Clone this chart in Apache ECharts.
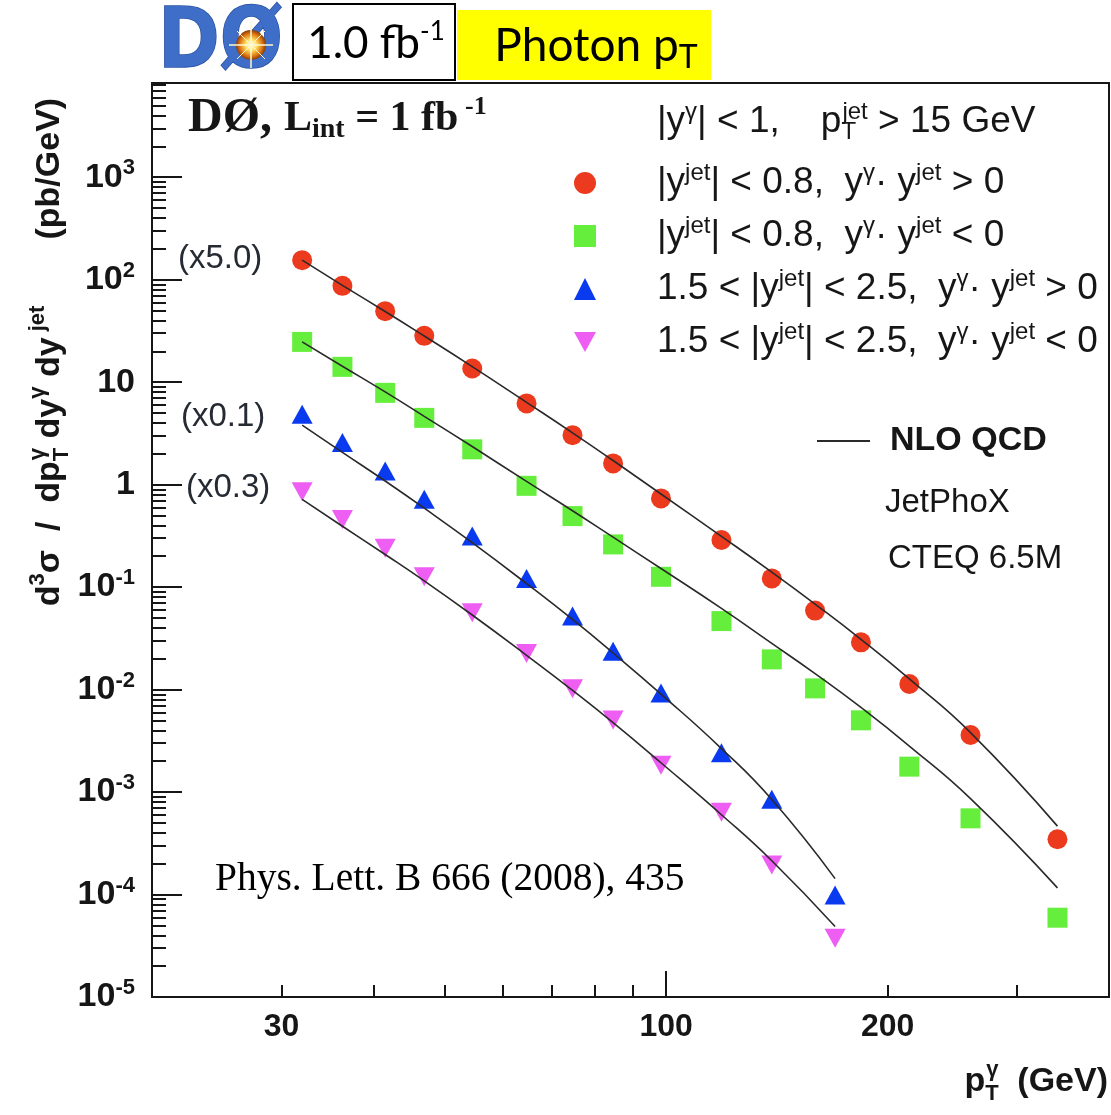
<!DOCTYPE html>
<html>
<head>
<meta charset="utf-8">
<title>DØ photon + jet cross sections</title>
<script src="https://cdn.jsdelivr.net/npm/echarts@6/dist/echarts.min.js"></script>
<style>
html,body{margin:0;padding:0;background:#ffffff;}
#chart{width:1111px;height:1115px;}
</style>
</head>
<body>
<div id="chart"></div>
<script>
// ---------------- data ----------------
const ptCentral = [32.0, 36.3, 41.5, 46.9, 54.5, 64.6, 74.6, 84.7, 98.4, 118.9, 139.2, 159.4, 184.0, 214.1, 259.3, 340.4];
const ptForward = [32.0, 36.3, 41.5, 46.9, 54.5, 64.6, 74.6, 84.7, 98.4, 118.9, 139.2, 169.7];

// data points (already multiplied by the scale factors shown in the figure)
const dataCentralSame = [155, 87.0, 49.3, 28.3, 13.6, 6.20, 3.04, 1.61, 0.733, 0.288, 0.1216, 0.0590, 0.0289, 0.01132, 0.00360, 0.000346];
const dataCentralOpp  = [24.7, 14.1, 7.86, 4.48, 2.21, 0.973, 0.493, 0.261, 0.126, 0.0466, 0.0197, 0.01027, 0.00501, 0.00177, 0.000554, 0.0000594];
const dataForwardSame = [4.87, 2.58, 1.36, 0.718, 0.315, 0.1216, 0.0521, 0.0236, 0.00924, 0.00242, 0.000849, 0.0000989];
const dataForwardOpp  = [0.851, 0.457, 0.239, 0.126, 0.0561, 0.0225, 0.01016, 0.00504, 0.00183, 0.000634, 0.000194, 0.0000374];

// NLO QCD (JetPhoX) curves
const nloCentralSame = [155.0, 88.0, 48.9, 28.2, 14.17, 6.354, 3.202, 1.718, 0.8096, 0.3131, 0.1400, 0.0683, 0.03095, 0.01272, 0.003806, 0.000465];
const nloCentralOpp  = [24.73, 14.30, 8.025, 4.638, 2.353, 1.074, 0.5563, 0.3068, 0.1519, 0.06197, 0.02822, 0.01429, 0.00669, 0.002811, 0.000864, 0.0001162];
const nloForwardSame = [3.806, 2.066, 1.084, 0.5886, 0.2712, 0.1082, 0.04829, 0.02275, 0.00904, 0.002657, 0.000845, 0.0001429];
const nloForwardOpp  = [0.7172, 0.3927, 0.2080, 0.1149, 0.05342, 0.02161, 0.009844, 0.004764, 0.001931, 0.0006004, 0.0002137, 0.00004873];

// axes
const xRange = [20, 400];
const yRange = [1e-5, 8300];
const xLabelTicks = [30, 100, 200];
const xMajorTicks = [100];
const xMinorTicks = [30, 40, 50, 60, 70, 80, 90, 200, 300];
const yMajorTicks = [1e-5, 1e-4, 1e-3, 1e-2, 1e-1, 1, 10, 100, 1000];
const yMinorTicks = [];
for (let e = -5; e <= 3; e++) {
  for (let m = 2; m <= 9; m++) {
    const v = Number((m * Math.pow(10, e)).toPrecision(3));
    if (v < yRange[1]) yMinorTicks.push(v);
  }
}

const seriesNames = ['central same sign', 'central opposite sign', 'forward same sign', 'forward opposite sign'];
const theoryName = 'NLO QCD';
const scaleLabels = ['(x5.0)', '(x0.1)', '(x0.3)'];

// ---------------- styling ----------------
const SANS = '"Liberation Sans", Arial, Helvetica, sans-serif';
const SERIF = '"Liberation Serif", "Times New Roman", serif';
const INK = '#161616';
const COLORS = ['#ec3a1e', '#66ee3c', '#0a3af0', '#ee5ef2'];

function pairs(xs, ys) { return xs.map((x, i) => [x, ys[i]]); }

const legendRich = {
  g: { width: 56 },
  t: { fontFamily: SANS, fontSize: 37, color: INK, lineHeight: 44 },
  s: { fontFamily: SANS, fontSize: 24, color: INK, lineHeight: 14, verticalAlign: 'top' }
};
const legendText = {};
legendText[seriesNames[0]] = '{g| }{t||y}{s|jet}{t|| < 0.8,  y}{s|γ}{t|· y}{s|jet}{t| > 0}';
legendText[seriesNames[1]] = '{g| }{t||y}{s|jet}{t|| < 0.8,  y}{s|γ}{t|· y}{s|jet}{t| < 0}';
legendText[seriesNames[2]] = '{g| }{t|1.5 < |y}{s|jet}{t|| < 2.5,  y}{s|γ}{t|· y}{s|jet}{t| > 0}';
legendText[seriesNames[3]] = '{g| }{t|1.5 < |y}{s|jet}{t|| < 2.5,  y}{s|γ}{t|· y}{s|jet}{t| < 0}';

function yLabel(v) {
  const e = Math.round(Math.log10(v));
  if (e === 0) return '{b|1}';
  if (e === 1) return '{b|10}';
  return '{b|10}{e|' + e + '}';
}

const chart = echarts.init(document.getElementById('chart'), null, { renderer: 'canvas' });

const scatterDefs = [
  { data: pairs(ptCentral, dataCentralSame), symbol: 'circle', size: 20 },
  { data: pairs(ptCentral, dataCentralOpp), symbol: 'rect', size: 20 },
  { data: pairs(ptForward, dataForwardSame), symbol: 'triangle', size: [21, 19] },
  { data: pairs(ptForward, dataForwardOpp), symbol: 'path://M0,0L20,0L10,18Z', size: [21, 19] }
];
const theoryDefs = [
  pairs(ptCentral, nloCentralSame),
  pairs(ptCentral, nloCentralOpp),
  pairs(ptForward, nloForwardSame),
  pairs(ptForward, nloForwardOpp)
];

const series = [];
scatterDefs.forEach((d, i) => {
  series.push({
    type: 'scatter', name: seriesNames[i], xAxisIndex: 0, yAxisIndex: 0,
    data: d.data, symbol: d.symbol, symbolSize: d.size,
    itemStyle: { color: COLORS[i], opacity: 1 }, z: 3
  });
});
theoryDefs.forEach((d) => {
  series.push({
    type: 'line', name: theoryName, xAxisIndex: 0, yAxisIndex: 0,
    data: d, symbol: 'none', showSymbol: false, smooth: 0.5,
    lineStyle: { color: '#2a2a2a', width: 1.6 }, itemStyle: { color: '#2a2a2a' }, z: 4
  });
});

const gridBox = { left: 152, top: 83, width: 957, height: 914 };

// rich styles for stacked sub/superscript titles (all tokens left-flowing)
function titleRich(main, small, lh, off, bold) {
  const w = bold ? 'bold' : 'normal';
  return {
    m: { fontFamily: SANS, fontWeight: w, fontSize: main, fill: INK, lineHeight: lh, align: 'left' },
    p: { fontFamily: SANS, fontWeight: w, fontSize: small, fill: INK, lineHeight: off, verticalAlign: 'top', align: 'left' },
    u: { fontFamily: SANS, fontWeight: w, fontSize: small, fill: INK, lineHeight: off, verticalAlign: 'bottom', align: 'left', width: 1 }
  };
}

const option = {
  animation: false,
  backgroundColor: '#ffffff',
  grid: [
    Object.assign({ show: true, borderColor: INK, borderWidth: 2, backgroundColor: 'transparent' }, gridBox),
    Object.assign({ show: false }, gridBox)
  ],
  xAxis: [
    {
      type: 'log', logBase: 10, gridIndex: 0, min: xRange[0], max: xRange[1], position: 'bottom',
      axisLine: { show: true, lineStyle: { color: INK, width: 2 } },
      axisTick: { show: true, inside: true, length: 26, customValues: xMajorTicks, lineStyle: { color: INK, width: 2 } },
      axisLabel: {
        show: true, customValues: xLabelTicks, margin: 14, color: INK,
        fontFamily: SANS, fontWeight: 'bold', fontSize: 32,
        formatter: (v) => String(Math.round(v))
      },
      splitLine: { show: false }, minorTick: { show: false }
    },
    {
      type: 'log', logBase: 10, gridIndex: 1, min: xRange[0], max: xRange[1], position: 'bottom',
      axisLine: { show: false },
      axisTick: { show: true, inside: true, length: 12, customValues: xMinorTicks, lineStyle: { color: INK, width: 2 } },
      axisLabel: { show: false }, splitLine: { show: false }
    }
  ],
  yAxis: [
    {
      type: 'log', logBase: 10, gridIndex: 0, min: yRange[0], max: yRange[1], position: 'left',
      axisLine: { show: true, lineStyle: { color: INK, width: 2 } },
      axisTick: { show: true, inside: true, length: 30, customValues: yMajorTicks, lineStyle: { color: INK, width: 2 } },
      axisLabel: {
        show: true, customValues: yMajorTicks, margin: 17, formatter: yLabel,
        rich: {
          b: { fontFamily: SANS, fontWeight: 'bold', fontSize: 34, color: INK, lineHeight: 40 },
          e: { fontFamily: SANS, fontWeight: 'bold', fontSize: 22, color: INK, lineHeight: 10, verticalAlign: 'top' }
        }
      },
      splitLine: { show: false }, minorTick: { show: false }
    },
    {
      type: 'log', logBase: 10, gridIndex: 1, min: yRange[0], max: yRange[1], position: 'left',
      axisLine: { show: false },
      axisTick: { show: true, inside: true, length: 14, customValues: yMinorTicks, lineStyle: { color: INK, width: 2 } },
      axisLabel: { show: false }, splitLine: { show: false }
    }
  ],
  legend: [
    {
      data: seriesNames, orient: 'vertical', left: 574, top: 161, padding: 0,
      itemWidth: 22, itemHeight: 22, itemGap: 12.5, selectedMode: false,
      formatter: (name) => legendText[name],
      textStyle: { rich: legendRich }
    },
    {
      data: [theoryName], orient: 'vertical', left: 817, top: 424, padding: 0,
      icon: 'rect', itemWidth: 53, itemHeight: 2, selectedMode: false,
      formatter: (name) => '{g| }{b|' + name + '}',
      textStyle: { rich: {
        g: { width: 15 },
        b: { fontFamily: SANS, fontWeight: 'bold', fontSize: 34, color: INK, lineHeight: 40 }
      } }
    }
  ],
  graphic: [
    // DØ logo (approximation)
    { type: 'text', x: 158, y: 45, scaleX: 1.2, scaleY: 1.35, z: 10,
      style: { text: 'DØ', fontFamily: '"DejaVu Sans", sans-serif', fontWeight: 'bold', fontSize: 62,
               verticalAlign: 'middle', fill: '#3e6ec7', stroke: '#2a52a3', lineWidth: 1.2 } },
    { type: 'circle', z: 11, shape: { cx: 251, cy: 45, r: 15 },
      style: { fill: { type: 'radial', x: 0.5, y: 0.5, r: 0.5, colorStops: [
        { offset: 0, color: '#ffffff' }, { offset: 0.35, color: '#ffe46a' },
        { offset: 0.75, color: '#de7812' }, { offset: 1, color: '#8a3b06' } ] } } },
    { type: 'line', z: 12, shape: { x1: 229, y1: 45, x2: 273, y2: 45 }, style: { stroke: '#fff8d0', lineWidth: 1.5 } },
    { type: 'line', z: 12, shape: { x1: 251, y1: 22, x2: 251, y2: 68 }, style: { stroke: '#fff8d0', lineWidth: 1.5 } },
    { type: 'line', z: 12, shape: { x1: 237, y1: 31, x2: 265, y2: 59 }, style: { stroke: '#fff8d0', lineWidth: 1 } },
    { type: 'line', z: 12, shape: { x1: 237, y1: 59, x2: 265, y2: 31 }, style: { stroke: '#fff8d0', lineWidth: 1 } },

    // luminosity box
    { type: 'rect', z: 10, shape: { x: 293, y: 4, width: 162, height: 76 },
      style: { fill: '#ffffff', stroke: '#000000', lineWidth: 2 } },
    { type: 'text', z: 11, x: 376, y: 44,
      style: { text: '{a|1.0 fb}{s|-1}', align: 'center', verticalAlign: 'middle',
        rich: { a: { fontFamily: 'Lato, sans-serif', fontSize: 44, fill: '#000', lineHeight: 50 },
                s: { fontFamily: 'Lato, sans-serif', fontSize: 26, fill: '#000', lineHeight: 24, verticalAlign: 'top' } } } },
    // yellow box
    { type: 'rect', z: 10, shape: { x: 457, y: 10, width: 254, height: 70 }, style: { fill: '#ffff00' } },
    { type: 'text', z: 11, x: 596, y: 46,
      style: { text: '{a|Photon p}{s|T}', align: 'center', verticalAlign: 'middle',
        rich: { a: { fontFamily: 'Lato, sans-serif', fontSize: 46, fill: '#000', lineHeight: 56 },
                s: { fontFamily: 'Lato, sans-serif', fontSize: 32, fill: '#000', lineHeight: 44, verticalAlign: 'bottom' } } } },

    // DØ, L_int = 1 fb^-1
    { type: 'text', z: 11, x: 188, y: 119,
      style: { text: '{a|DØ, }{b|L}{c|int}{b| = 1 fb}{d| -1}', align: 'left', verticalAlign: 'middle',
        rich: { a: { fontFamily: SERIF, fontWeight: 'bold', fontSize: 48, fill: INK, lineHeight: 50 },
                b: { fontFamily: SERIF, fontWeight: 'bold', fontSize: 42, fill: INK, lineHeight: 50 },
                c: { fontFamily: SERIF, fontWeight: 'bold', fontSize: 28, fill: INK, lineHeight: 18, verticalAlign: 'bottom' },
                d: { fontFamily: SERIF, fontWeight: 'bold', fontSize: 26, fill: INK, lineHeight: 18, verticalAlign: 'top' } } } },

    // legend header
    { type: 'text', z: 11, x: 657, y: 122,
      style: { text: '{t||y}{s|γ}{t|| < 1,    p}{u|T}{s|jet}{t| > 15 GeV}', align: 'left', verticalAlign: 'middle',
        rich: { t: { fontFamily: SANS, fontSize: 37, fill: INK, lineHeight: 44 },
                s: { fontFamily: SANS, fontSize: 24, fill: INK, lineHeight: 14, verticalAlign: 'top' },
                u: { fontFamily: SANS, fontSize: 24, fill: INK, lineHeight: 8, verticalAlign: 'bottom', width: 1 } } } },

    // scale factor labels
    { type: 'text', z: 11, x: 178, y: 259, style: { text: scaleLabels[0], fontFamily: SANS, fontSize: 33, fill: '#262a33', verticalAlign: 'middle' } },
    { type: 'text', z: 11, x: 181, y: 417, style: { text: scaleLabels[1], fontFamily: SANS, fontSize: 33, fill: '#262a33', verticalAlign: 'middle' } },
    { type: 'text', z: 11, x: 186, y: 488, style: { text: scaleLabels[2], fontFamily: SANS, fontSize: 33, fill: '#262a33', verticalAlign: 'middle' } },

    // theory description
    { type: 'text', z: 11, x: 885, y: 503, style: { text: 'JetPhoX', fontFamily: SANS, fontSize: 33, fill: INK, verticalAlign: 'middle' } },
    { type: 'text', z: 11, x: 888, y: 559, style: { text: 'CTEQ 6.5M', fontFamily: SANS, fontSize: 33, fill: INK, verticalAlign: 'middle' } },

    // reference
    { type: 'text', z: 11, x: 215, y: 880, style: { text: 'Phys. Lett. B 666 (2008), 435', fontFamily: SERIF, fontSize: 39.5, fill: '#000', verticalAlign: 'middle' } },

    // x-axis title
    { type: 'text', z: 11, x: 1108, y: 1082,
      style: { text: '{m|p}{u|T}{p|γ}{m|  (GeV)}', align: 'right', verticalAlign: 'middle',
        rich: titleRich(34, 22, 46, 10, true) } },

    // y-axis title (rotated)
    { type: 'text', z: 11, x: 50, y: 352, rotation: Math.PI / 2,
      style: { text: '{m|d}{p|3}{m|σ  /  dp}{u|T}{p|γ}{m| dy}{p|γ}{m| dy}{p| jet}{m|       (pb/GeV)}', align: 'center', verticalAlign: 'middle',
        rich: titleRich(34, 22, 46, 10, true) } }
  ],
  series: series
};

chart.setOption(option);
</script>
</body>
</html>
